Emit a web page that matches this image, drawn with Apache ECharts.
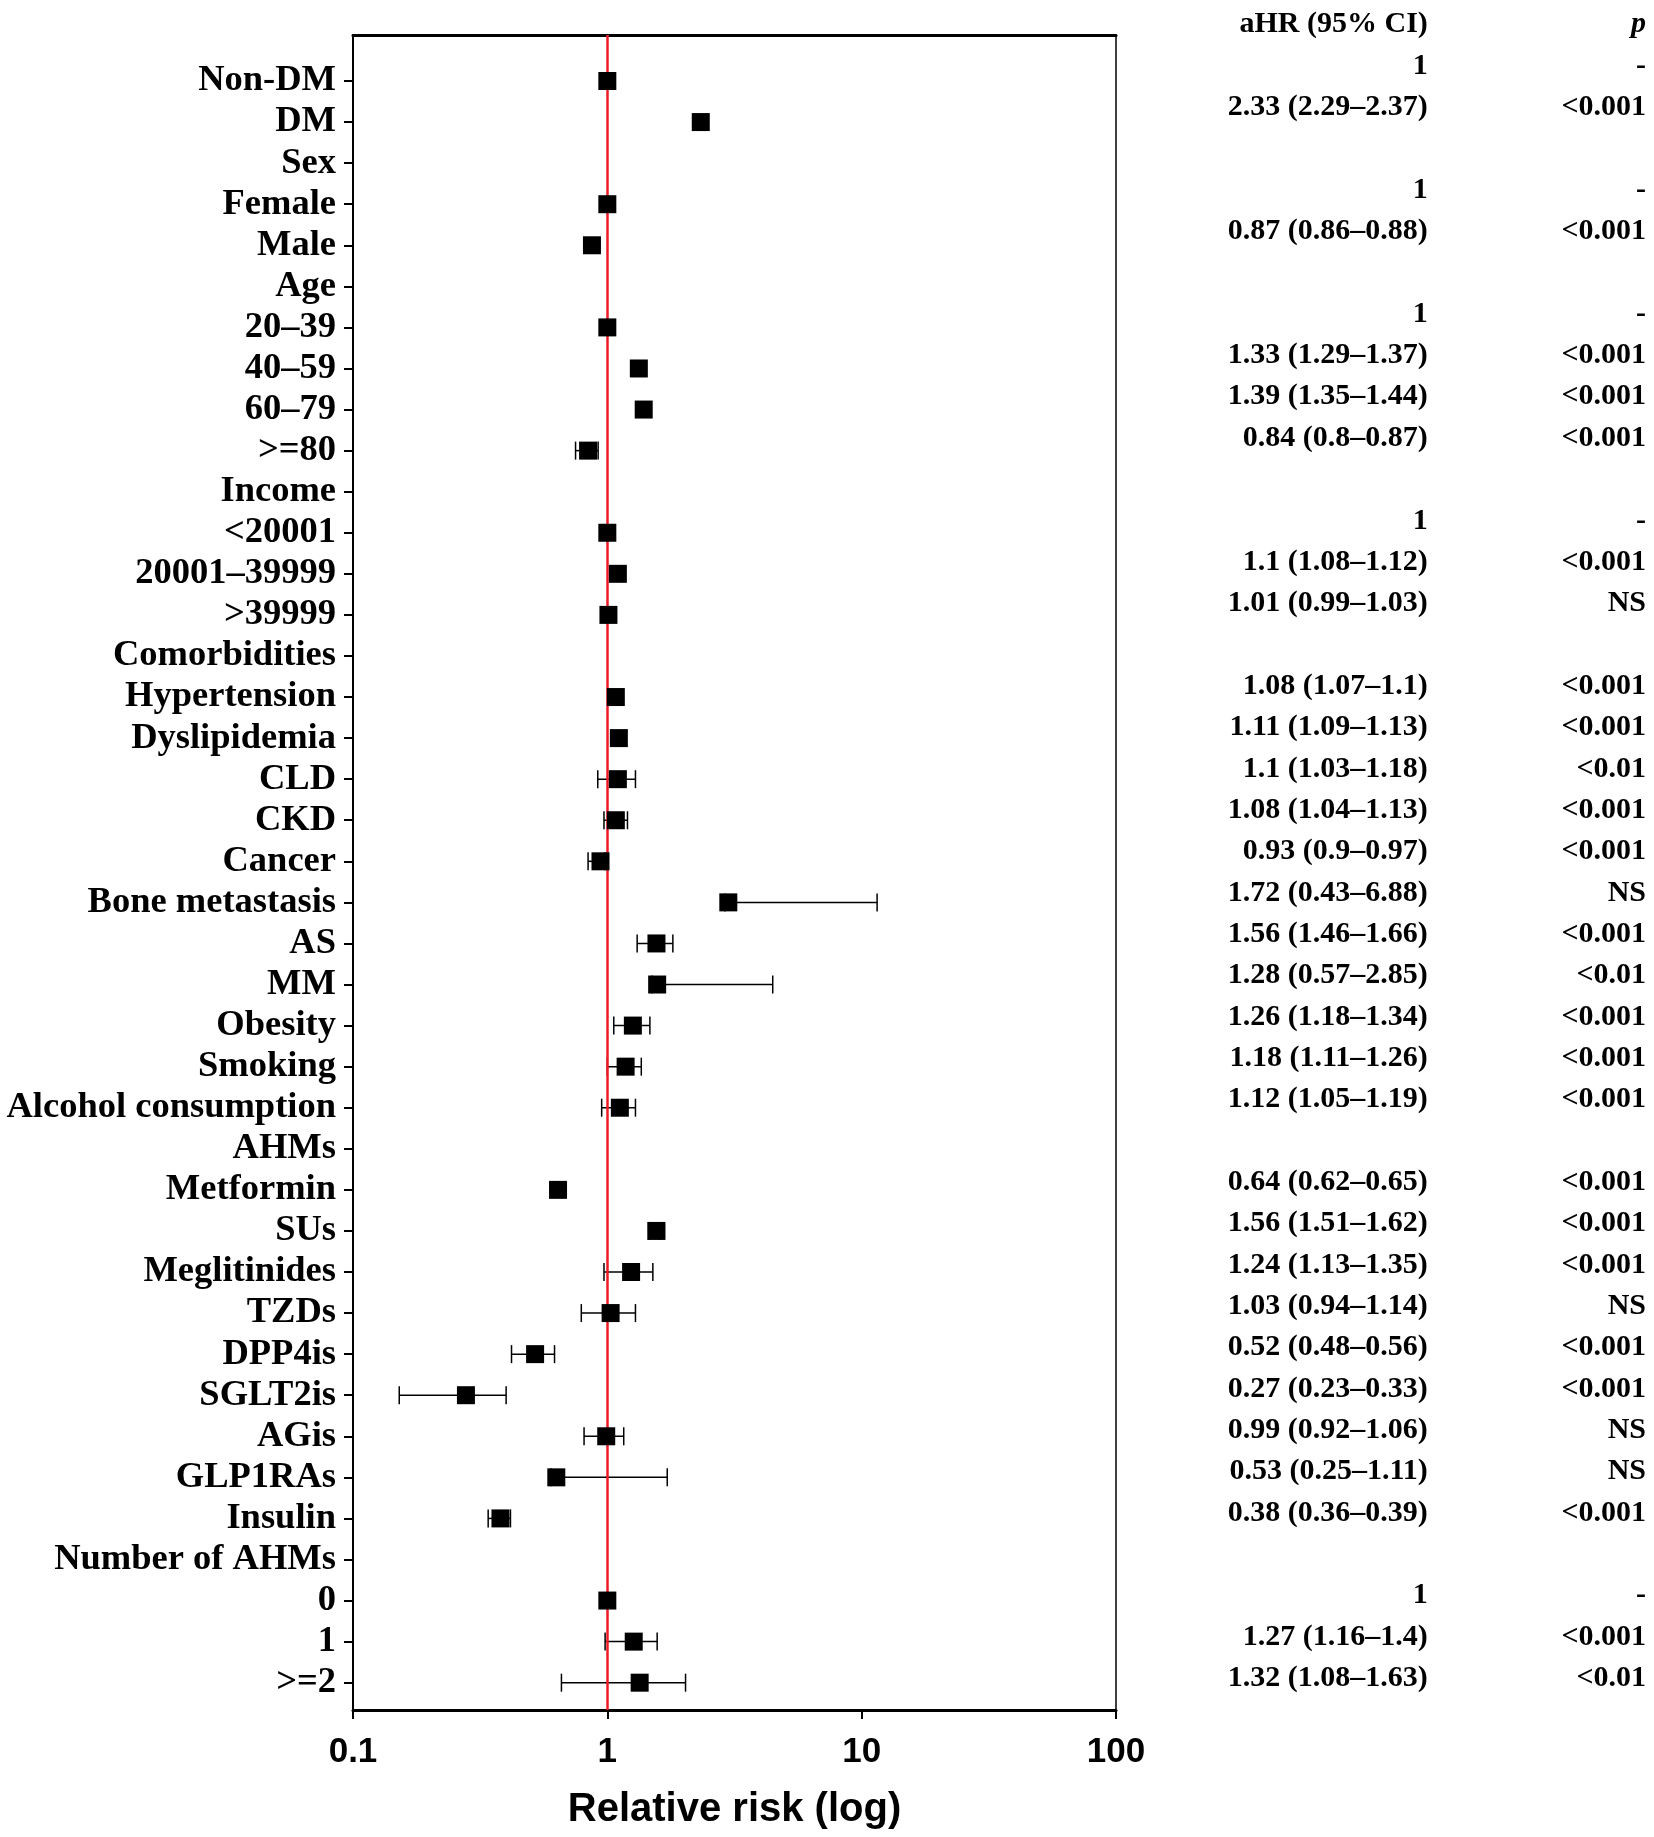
<!DOCTYPE html>
<html>
<head>
<meta charset="utf-8">
<script src="https://cdn.jsdelivr.net/npm/echarts@6.0.0/dist/echarts.min.js"></script>
<style>
    html, body { margin: 0; padding: 0; background: #fff; }
    #main { width: 1654px; height: 1837px; }
</style>
</head>
<body>
<div id="main"></div>
<script>
// row labels, top to bottom
const rows = ['Non-DM', 'DM', 'Sex', 'Female', 'Male', 'Age', '20–39', '40–59', '60–79', '>=80',
    'Income', '<20001', '20001–39999', '>39999', 'Comorbidities', 'Hypertension', 'Dyslipidemia',
    'CLD', 'CKD', 'Cancer', 'Bone metastasis', 'AS', 'MM', 'Obesity', 'Smoking', 'Alcohol consumption',
    'AHMs', 'Metformin', 'SUs', 'Meglitinides', 'TZDs', 'DPP4is', 'SGLT2is', 'AGis', 'GLP1RAs', 'Insulin',
    'Number of AHMs', '0', '1', '>=2']

// plotted point estimate and interval, null = heading row / no bar
const hr = [1, 2.33, null, 1, 0.87, null, 1, 1.33, 1.39, 0.84,
    null, 1, 1.10, 1.01, null, 1.08, 1.11,
    1.10, 1.08, 0.94, 2.99, 1.56, 1.57, 1.26, 1.18, 1.12,
    null, 0.64, 1.56, 1.24, 1.03, 0.52, 0.278, 0.99, 0.63, 0.38,
    null, 1, 1.27, 1.34]
const ciLow = [null, null, null, null, null, null, null, null, null, 0.75,
    null, null, null, null, null, null, null,
    0.917, 0.97, 0.84, 2.9, 1.31, 1.5, 1.06, 1.0, 0.95,
    null, null, 1.45, 0.97, 0.79, 0.42, 0.152, 0.81, 0.6, 0.34,
    null, null, 0.98, 0.66]
const ciHigh = [null, null, null, null, null, null, null, null, null, 0.92,
    null, null, null, null, null, null, null,
    1.29, 1.20, 0.98, 11.5, 1.81, 4.47, 1.47, 1.36, 1.29,
    null, null, 1.60, 1.51, 1.29, 0.62, 0.40, 1.16, 1.72, 0.416,
    null, null, 1.57, 2.03]

// table on the right
const tableHeader = ['aHR (95% CI)', 'p']
const ahrText = ['1', '2.33 (2.29–2.37)', '', '1', '0.87 (0.86–0.88)', '', '1', '1.33 (1.29–1.37)',
    '1.39 (1.35–1.44)', '0.84 (0.8–0.87)', '', '1', '1.1 (1.08–1.12)', '1.01 (0.99–1.03)', '',
    '1.08 (1.07–1.1)', '1.11 (1.09–1.13)', '1.1 (1.03–1.18)', '1.08 (1.04–1.13)', '0.93 (0.9–0.97)',
    '1.72 (0.43–6.88)', '1.56 (1.46–1.66)', '1.28 (0.57–2.85)', '1.26 (1.18–1.34)', '1.18 (1.11–1.26)',
    '1.12 (1.05–1.19)', '', '0.64 (0.62–0.65)', '1.56 (1.51–1.62)', '1.24 (1.13–1.35)',
    '1.03 (0.94–1.14)', '0.52 (0.48–0.56)', '0.27 (0.23–0.33)', '0.99 (0.92–1.06)',
    '0.53 (0.25–1.11)', '0.38 (0.36–0.39)', '', '1', '1.27 (1.16–1.4)', '1.32 (1.08–1.63)']
const pText = ['-', '<0.001', '', '-', '<0.001', '', '-', '<0.001', '<0.001', '<0.001', '', '-',
    '<0.001', 'NS', '', '<0.001', '<0.001', '<0.01', '<0.001', '<0.001', 'NS', '<0.001', '<0.01',
    '<0.001', '<0.001', '<0.001', '', '<0.001', '<0.001', '<0.001', 'NS', '<0.001', '<0.001', 'NS',
    'NS', '<0.001', '', '-', '<0.001', '<0.01']

const xTicks = [0.1, 1, 10, 100]

// layout
const serif = '"Liberation Serif", "Times New Roman", serif'
const sans = '"Liberation Sans", Arial, sans-serif'
const colAnchor = [0.478, 1]   // right edges of the two table columns within grid 1

let points = [], bars = [], cells = [], cellText = []
rows.forEach((r, i) => {
    if (hr[i] != null) points.push([hr[i], i])
    if (ciLow[i] != null) bars.push([i, ciLow[i], ciHigh[i]])
    if (ahrText[i]) { cells.push([colAnchor[0], i]); cellText.push({ t: ahrText[i] }) }
    if (pText[i]) { cells.push([colAnchor[1], i]); cellText.push({ t: pText[i] }) }
})
cells.push([colAnchor[0], -1]); cellText.push({ t: tableHeader[0] })
cells.push([colAnchor[1], -1]); cellText.push({ t: tableHeader[1], italic: true })

const rowIdx = rows.map((r, i) => i)

const chart = echarts.init(document.getElementById('main'), null, { renderer: 'canvas' })
chart.setOption({
    animation: false,
    backgroundColor: '#fff',
    grid: [
        { left: 353, right: 538, top: 35, bottom: 127 },
        { left: 1228, right: 8, top: 4, bottom: 138 },
    ],
    xAxis: [
        {
            type: 'log', logBase: 10, min: 0.1, max: 100, gridIndex: 0, position: 'bottom',
            axisLine: { onZero: false, lineStyle: { color: '#000', width: 3 } },
            axisTick: { show: true, length: 9, lineStyle: { color: '#000', width: 2 }, customValues: xTicks },
            minorTick: { show: false },
            axisLabel: {
                customValues: xTicks, formatter: v => String(+v.toPrecision(3)),
                color: '#000', fontFamily: sans, fontWeight: 'bold', fontSize: 35, margin: 25,
            },
            splitLine: { show: false },
            name: 'Relative risk (log)', nameLocation: 'middle', nameGap: 80,
            nameTextStyle: { color: '#000', fontFamily: sans, fontWeight: 'bold', fontSize: 40 },
        },
        {
            type: 'log', logBase: 10, min: 0.1, max: 100, gridIndex: 0, position: 'top',
            axisLine: { onZero: false, lineStyle: { color: '#000', width: 3 } },
            axisTick: { show: false }, axisLabel: { show: false }, splitLine: { show: false },
        },
        { type: 'value', min: 0, max: 1, gridIndex: 1, show: false },
    ],
    yAxis: [
        {
            type: 'value', inverse: true, min: -1.12, max: 39.665, gridIndex: 0, position: 'left',
            axisLine: { show: true, onZero: false, lineStyle: { color: '#000', width: 2 } },
            axisTick: { show: true, length: 9, lineStyle: { color: '#000', width: 2 }, customValues: rowIdx },
            axisLabel: {
                customValues: rowIdx, formatter: v => rows[Math.round(v)],
                color: '#000', fontFamily: serif, fontWeight: 'bold', fontSize: 36.5, margin: 17,
                padding: [8, 0, 0, 0],
            },
            splitLine: { show: false },
        },
        {
            type: 'value', inverse: true, min: -1.12, max: 39.665, gridIndex: 0, position: 'right',
            axisLine: { show: true, onZero: false, lineStyle: { color: '#000', width: 1.5 } },
            axisTick: { show: false }, axisLabel: { show: false }, splitLine: { show: false },
        },
        { type: 'value', inverse: true, min: -1.5, max: 39.5, gridIndex: 1, show: false },
    ],
    series: [
        {
            type: 'custom', xAxisIndex: 0, yAxisIndex: 0, z: 2, silent: true,
            data: bars, encode: { x: [1, 2], y: 0 },
            renderItem: (params, api) => {
                const y = api.value(0)
                const a = api.coord([api.value(1), y])
                const b = api.coord([api.value(2), y])
                const h = 9
                const st = { stroke: '#000', lineWidth: 1.5 }
                return {
                    type: 'group', children: [
                        { type: 'line', shape: { x1: a[0], y1: a[1], x2: b[0], y2: b[1] }, style: st },
                        { type: 'line', shape: { x1: a[0], y1: a[1] - h, x2: a[0], y2: a[1] + h }, style: st },
                        { type: 'line', shape: { x1: b[0], y1: b[1] - h, x2: b[0], y2: b[1] + h }, style: st },
                    ]
                }
            },
        },
        {
            type: 'scatter', xAxisIndex: 0, yAxisIndex: 0, z: 4, silent: true,
            symbol: 'rect', symbolSize: 18, itemStyle: { color: '#000', opacity: 1 },
            data: points,
            markLine: {
                silent: true, symbol: 'none', label: { show: false },
                lineStyle: { color: '#ed1c24', width: 2.5, type: 'solid' },
                data: [{ xAxis: 1 }],
                z: 3,
            },
        },
        {
            type: 'custom', xAxisIndex: 2, yAxisIndex: 2, silent: true,
            data: cells,
            renderItem: (params, api) => {
                const p = api.coord([api.value(0), api.value(1)])
                const c = cellText[params.dataIndex]
                return {
                    type: 'text',
                    x: p[0], y: p[1],
                    style: {
                        text: c.t, fill: '#000', align: 'right', verticalAlign: 'middle',
                        font: (c.italic ? 'italic ' : '') + 'bold 30px ' + serif,
                    },
                }
            },
        },
    ],
})
</script>
</body>
</html>
